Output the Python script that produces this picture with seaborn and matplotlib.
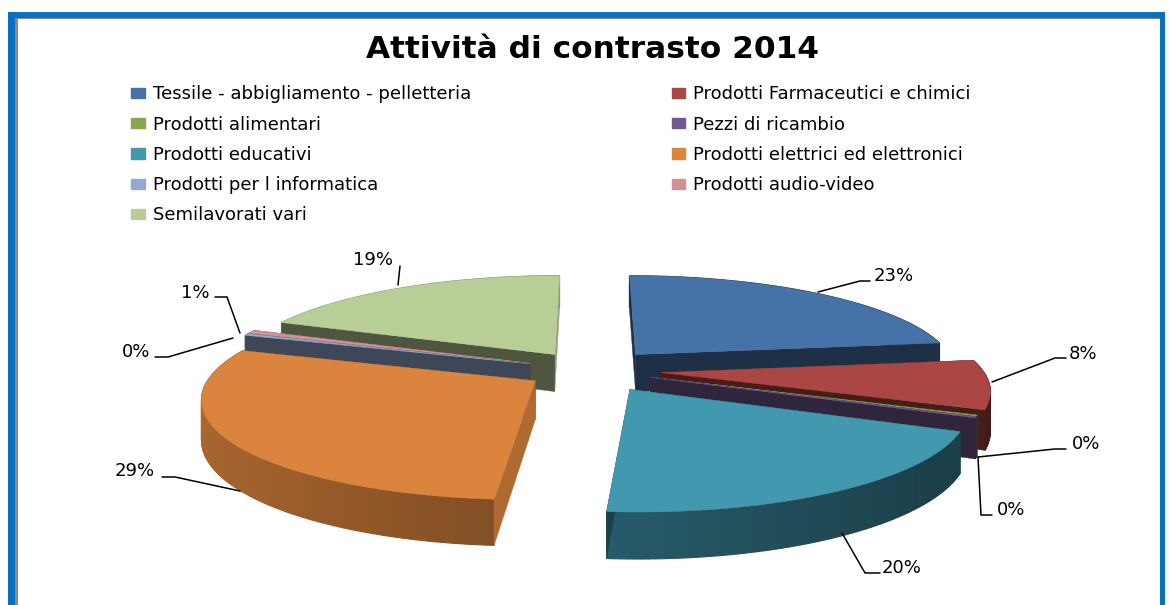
import numpy as np
import seaborn as sns
import matplotlib
matplotlib.use('Agg')
import matplotlib.pyplot as plt
from matplotlib.patches import Polygon, Patch, Rectangle

sns.set_theme(style='white')
plt.rcParams['font.family'] = ['DejaVu Sans']

title = 'Attività di contrasto 2014'
categories = ['Tessile - abbigliamento - pelletteria', 'Prodotti Farmaceutici e chimici',
              'Prodotti alimentari', 'Pezzi di ricambio', 'Prodotti educativi',
              'Prodotti elettrici ed elettronici', 'Prodotti per l informatica',
              'Prodotti audio-video', 'Semilavorati vari']
# the 0% slices still have a thin wall in the picture, so not really zero
values = [23, 8, 0.2, 0.2, 20, 29, 0.3, 0.6, 19]
palette = sns.color_palette(['#4572a7', '#aa4643', '#89a54e', '#71588f', '#4198af',
                             '#db843d', '#93a9cf', '#d19392', '#b9cd96'])
explode = [0.22, 0.22, 0.2, 0.2, 0.23, 0.2, 0.2, 0.2, 0.2]

# layout of the percent labels and their leader lines, in pixels
label_pos = [(894, 276), (1083, 354), (1086, 444), (1011, 510), (902, 568),
             (135, 471), (136, 352), (195, 293), (373, 260)]
leaders = [[(818, 292), (860, 281), (870, 281)],
           [(992, 382), (1055, 358), (1066, 358)],
           [(978, 457), (1055, 449), (1066, 449)],
           [(978, 457), (981, 515), (992, 515)],
           [(842, 533), (865, 573), (880, 573)],
           [(240, 491), (175, 477), (162, 477)],
           [(233, 338), (168, 357), (155, 357)],
           [(240, 333), (227, 297), (215, 297)],
           [(398, 285), (400, 266)]]

# perspective of the fake 3D pie
cx, cy = 590, 370
rx, ry = 322, 96
k = 0.16
depth = 38


def project(x, y, z=0):
    w = 1 + k * y
    return cx + rx * x / w, cy - ry * y / w + z * depth / w


def darker(color, f):
    return tuple(c * f for c in color)


fig = plt.figure(figsize=(11.69, 6.05), dpi=100)
ax = fig.add_axes([0, 0, 1, 1])

wedges, _ = ax.pie(values, colors=palette, explode=explode, startangle=90, counterclock=False)
ax.set_aspect('auto')
ax.set_xlim(0, 1169)
ax.set_ylim(605, 0)

# frame of the screenshot
blue = '#0a70c0'
ax.add_patch(Rectangle((8, 12), 1153, 6, color=blue, lw=0))
ax.add_patch(Rectangle((8, 12), 7, 593, color=blue, lw=0))
ax.add_patch(Rectangle((1160, 12), 5, 593, color=blue, lw=0))
ax.add_patch(Rectangle((15, 18), 3, 587, color='#8a8a8a', lw=0))
ax.add_patch(Rectangle((15, 18), 1145, 1, color='#8a8a8a', lw=0))

# back slices first
mids = [np.sin(np.radians((w.theta1 + w.theta2) / 2)) for w in wedges]
order = np.argsort(mids)[::-1]

for n, i in enumerate(order):
    w = wedges[i]
    w.set_visible(False)
    col = palette[i]
    x0, y0 = w.center
    ang = np.radians(np.linspace(w.theta1, w.theta2, max(int(w.theta2 - w.theta1), 2) + 1))
    px = x0 + w.r * np.cos(ang)
    py = y0 + w.r * np.sin(ang)
    z = 2 + n

    # outer rim, shaded left to right
    for j in range(len(ang) - 1):
        f = np.clip(0.58 - 0.2 * np.cos(ang[j]), 0.3, 1)
        pts = [project(px[j], py[j]), project(px[j + 1], py[j + 1]),
               project(px[j + 1], py[j + 1], 1), project(px[j], py[j], 1)]
        ax.add_patch(Polygon(pts, color=darker(col, f), lw=0.8, zorder=z))

    # cut walls, the ones facing right catch the light
    for j, sign in [(0, 1), (-1, -1)]:
        ex, ey = px[j], py[j]
        f = 0.8 if sign * np.sin(ang[j]) > 0.9 else 0.42
        pts = [project(x0, y0), project(ex, ey), project(ex, ey, 1), project(x0, y0, 1)]
        ax.add_patch(Polygon(pts, color=darker(col, f), lw=0.3, zorder=z + 0.2))

    # top face
    top = [project(x0, y0)] + [project(a, b) for a, b in zip(px, py)]
    ax.add_patch(Polygon(top, color=col, lw=0.3, zorder=z + 0.5))

for v, (tx, ty), line in zip(values, label_pos, leaders):
    ax.text(tx, ty, f'{v:.0f}%', ha='center', va='center', fontsize=13, color='black', zorder=30)
    xs, ys = zip(*line)
    ax.plot(xs, ys, color='black', lw=1.1, zorder=29)

ax.text(592, 49, title, ha='center', va='center', fontsize=22.5, fontweight='bold', color='black')

# legend reads row by row, matplotlib fills columns
leg_order = [0, 2, 4, 6, 8, 1, 3, 5, 7]
handles = [Patch(color=palette[i]) for i in leg_order]
ax.legend(handles, [categories[i] for i in leg_order], ncol=2, frameon=False, fontsize=13,
          loc='upper left', bbox_to_anchor=(115, 69), bbox_transform=ax.transData,
          labelspacing=0.68, handlelength=0.75, handleheight=0.5, handletextpad=0.45,
          columnspacing=11.1, labelcolor='black')

fig.savefig('out.png', dpi=100)
